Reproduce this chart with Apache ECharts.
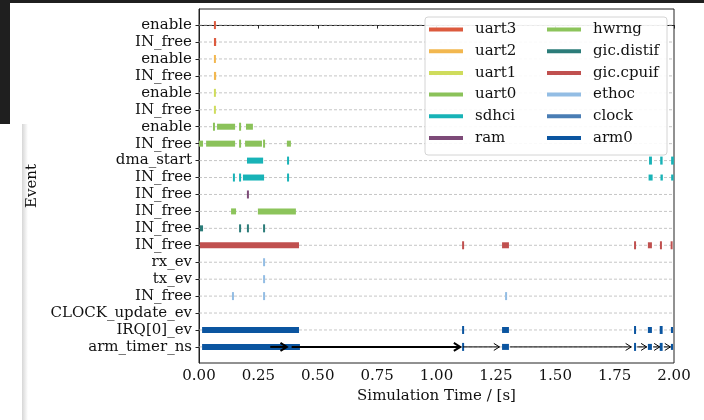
<!DOCTYPE html>
<html>
<head>
<meta charset="utf-8">
<script src="https://cdn.jsdelivr.net/npm/echarts@6/dist/echarts.min.js"></script>
<style>
  html, body { margin: 0; padding: 0; background: #fff; }
  #chart { width: 704px; height: 420px; }
</style>
</head>
<body>
<div id="chart"></div>
<script>
// y rows, top to bottom
const rowLabels = [
    'enable', 'IN_free', 'enable', 'IN_free', 'enable', 'IN_free', 'enable', 'IN_free',
    'dma_start', 'IN_free', 'IN_free', 'IN_free', 'IN_free', 'IN_free',
    'rx_ev', 'tx_ev', 'IN_free', 'CLOCK_update_ev', 'IRQ[0]_ev', 'arm_timer_ns'
];

const devices = ['uart3', 'uart2', 'uart1', 'uart0', 'sdhci', 'ram',
    'hwrng', 'gic.distif', 'gic.cpuif', 'ethoc', 'clock', 'arm0'];

const palette = ['#dc5a3e', '#f2b74f', '#cfdc5c', '#8bc25a', '#18b3b7', '#7d4a78',
    '#8cc45b', '#2b7c79', '#c0504f', '#93bde4', '#4a7db4', '#0b55a0'];

// [device, row, start, end]  (start == end -> single event)
const spans = [
    ['uart3', 0, 0.067, 0.067],
    ['uart3', 1, 0.065, 0.070],
    ['uart2', 2, 0.067, 0.067],
    ['uart2', 3, 0.065, 0.070],
    ['uart1', 4, 0.067, 0.067],
    ['uart1', 5, 0.067, 0.067],
    ['uart0', 6, 0.063, 0.063],
    ['uart0', 6, 0.076, 0.152],
    ['uart0', 6, 0.173, 0.173],
    ['uart0', 6, 0.198, 0.227],
    ['uart0', 7, 0.000, 0.017],
    ['uart0', 7, 0.030, 0.152],
    ['uart0', 7, 0.173, 0.173],
    ['uart0', 7, 0.194, 0.265],
    ['uart0', 7, 0.274, 0.274],
    ['uart0', 7, 0.370, 0.387],
    ['sdhci', 8, 0.202, 0.270],
    ['sdhci', 8, 0.375, 0.375],
    ['sdhci', 8, 1.897, 1.905],
    ['sdhci', 8, 1.944, 1.950],
    ['sdhci', 8, 1.990, 1.997],
    ['sdhci', 9, 0.147, 0.147],
    ['sdhci', 9, 0.173, 0.173],
    ['sdhci', 9, 0.185, 0.274],
    ['sdhci', 9, 0.375, 0.375],
    ['sdhci', 9, 1.893, 1.910],
    ['sdhci', 9, 1.943, 1.953],
    ['sdhci', 9, 1.988, 1.998],
    ['ram', 10, 0.206, 0.206],
    ['hwrng', 11, 0.135, 0.156],
    ['hwrng', 11, 0.248, 0.408],
    ['gic.distif', 12, 0.004, 0.017],
    ['gic.distif', 12, 0.173, 0.173],
    ['gic.distif', 12, 0.206, 0.206],
    ['gic.distif', 12, 0.274, 0.274],
    ['gic.cpuif', 13, 0.004, 0.421],
    ['gic.cpuif', 13, 1.112, 1.112],
    ['gic.cpuif', 13, 1.276, 1.305],
    ['gic.cpuif', 13, 1.836, 1.836],
    ['gic.cpuif', 13, 1.890, 1.907],
    ['gic.cpuif', 13, 1.945, 1.945],
    ['gic.cpuif', 13, 1.990, 1.990],
    ['ethoc', 14, 0.274, 0.274],
    ['ethoc', 15, 0.274, 0.274],
    ['ethoc', 16, 0.143, 0.143],
    ['ethoc', 16, 0.274, 0.274],
    ['ethoc', 16, 1.293, 1.293],
    ['arm0', 18, 0.013, 0.421],
    ['arm0', 18, 1.112, 1.112],
    ['arm0', 18, 1.276, 1.305],
    ['arm0', 18, 1.836, 1.836],
    ['arm0', 18, 1.890, 1.907],
    ['arm0', 18, 1.942, 1.950],
    ['arm0', 18, 1.987, 1.996],
    ['arm0', 19, 0.013, 0.425],
    ['arm0', 19, 1.112, 1.112],
    ['arm0', 19, 1.276, 1.305],
    ['arm0', 19, 1.836, 1.836],
    ['arm0', 19, 1.890, 1.907],
    ['arm0', 19, 1.942, 1.950],
    ['arm0', 19, 1.987, 1.996]
];

// timer arrows on the arm_timer_ns row: [from, to]
const arrowRow = 19;
const arrows = [
    [0.300, 0.370], [0.390, 1.100], [1.112, 1.265], [1.310, 1.820],
    [1.845, 1.885], [1.912, 1.940], [1.957, 1.985]
];
const arrowWidths = [2, 2, 1, 1, 1, 1, 1];

const serif = 'DejaVu Serif';
const chart = echarts.init(document.getElementById('chart'), null, { renderer: 'canvas' });

function renderSpan(params, api) {
    const row = api.value(0);
    const a = api.coord([api.value(1), row]);
    const b = api.coord([api.value(2), row]);
    const color = api.visual('color');
    if (b[0] - a[0] > 2) {
        return { type: 'rect', shape: { x: a[0], y: a[1] - 3, width: b[0] - a[0], height: 6 }, style: { fill: color } };
    }
    // single event (or very short one): small vertical tick
    const w = Math.max(2, b[0] - a[0] + 1);
    const cx = (a[0] + b[0]) / 2;
    return { type: 'rect', shape: { x: cx - w / 2, y: a[1] - 4, width: w, height: 8 }, style: { fill: color } };
}

function renderGridLine(params, api) {
    const p = api.coord([0, api.value(1)]);
    const cs = params.coordSys;
    return {
        type: 'line',
        shape: { x1: cs.x, y1: p[1], x2: cs.x + cs.width, y2: p[1] },
        style: { stroke: '#b8b8b8', lineWidth: 0.8, lineDash: [3, 2] }
    };
}

function renderArrow(params, api) {
    const a = api.coord([api.value(0), arrowRow]);
    const b = api.coord([api.value(1), arrowRow]);
    const w = arrowWidths[params.dataIndex];
    const h = w > 1 ? 4 : 3.5;
    const style = { stroke: '#000', lineWidth: w, fill: null };
    return {
        type: 'group',
        children: [
            { type: 'line', shape: { x1: a[0], y1: a[1], x2: b[0], y2: b[1] }, style: style },
            { type: 'polyline', shape: { points: [[b[0] - h * 1.6, b[1] - h], [b[0], b[1]], [b[0] - h * 1.6, b[1] + h]] }, style: style }
        ]
    };
}

const deviceSeries = devices.map(function (name, i) {
    return {
        name: name,
        type: 'custom',
        z: 3,
        renderItem: renderSpan,
        itemStyle: { color: palette[i] },
        encode: { x: [1, 2], y: 0 },
        data: spans.filter(s => s[0] === name).map(s => [s[1], s[2], s[3]])
    };
});

const legendText = { fontFamily: serif, fontSize: 15, color: '#111', padding: [0, 0, 0, 7] };

const option = {
    animation: false,
    backgroundColor: '#fff',
    grid: {
        left: 199, top: 9, width: 475, height: 354,
        show: true, borderColor: '#222', borderWidth: 1, backgroundColor: 'transparent'
    },
    xAxis: {
        type: 'value', min: 0, max: 2, interval: 0.25,
        name: 'Simulation Time / [s]', nameLocation: 'middle', nameGap: 24,
        nameTextStyle: { fontFamily: serif, fontSize: 15, color: '#111' },
        axisLine: { lineStyle: { color: '#222' } },
        axisTick: { show: true, length: 3.5, lineStyle: { color: '#222' } },
        axisLabel: { fontFamily: serif, fontSize: 15, color: '#111', margin: 6, formatter: v => v.toFixed(2) },
        splitLine: { show: false }
    },
    yAxis: {
        type: 'value', inverse: true, min: -0.95, max: 19.95,
        name: 'Event', nameLocation: 'middle', nameGap: 154, nameRotate: 90,
        nameTextStyle: { fontFamily: serif, fontSize: 15, color: '#111' },
        axisLine: { show: true, lineStyle: { color: '#222' } },
        axisTick: { show: true, length: 3.5, lineStyle: { color: '#222' }, customValues: rowLabels.map((_, i) => i) },
        axisLabel: {
            fontFamily: serif, fontSize: 15, color: '#111', margin: 7,
            customValues: rowLabels.map((_, i) => i),
            formatter: v => rowLabels[Math.round(v)] || ''
        },
        splitLine: { show: false }
    },
    legend: [
        {
            data: devices.slice(0, 6), orient: 'vertical', left: 429, top: 22,
            padding: 0, itemWidth: 34, itemHeight: 4, itemGap: 6.7, icon: 'rect',
            textStyle: legendText, selectedMode: false, z: 5
        },
        {
            data: devices.slice(6), orient: 'vertical', left: 547, top: 22,
            padding: 0, itemWidth: 34, itemHeight: 4, itemGap: 6.7, icon: 'rect',
            textStyle: legendText, selectedMode: false, z: 5
        }
    ],
    graphic: [
        { type: 'rect', z: 4, shape: { x: 425, y: 17, width: 242, height: 138, r: 3 }, style: { fill: 'rgba(255,255,255,0.9)', stroke: '#d4d4d4', lineWidth: 1 } },
        { type: 'rect', z: 10, shape: { x: 0, y: 0, width: 704, height: 3 }, style: { fill: '#1f1f1f' } },
        { type: 'rect', z: 10, shape: { x: 0, y: 0, width: 10, height: 124 }, style: { fill: '#1f1f1f' } },
        {
            type: 'rect', z: -1, shape: { x: 22, y: 124, width: 6, height: 296 },
            style: { fill: new echarts.graphic.LinearGradient(0, 0, 1, 0, [{ offset: 0, color: '#d6d6d6' }, { offset: 1, color: '#ffffff' }]) }
        }
    ],
    series: [
        {
            type: 'custom', name: 'grid', z: 1, silent: true,
            renderItem: renderGridLine, encode: { x: 0, y: 1 },
            data: rowLabels.map((_, i) => [0, i])
        }
    ].concat(deviceSeries).concat([
        {
            type: 'custom', name: 'arrows', z: 6, silent: true,
            renderItem: renderArrow, encode: { x: [0, 1] },
            data: arrows
        }
    ])
};

chart.setOption(option);
</script>
</body>
</html>
